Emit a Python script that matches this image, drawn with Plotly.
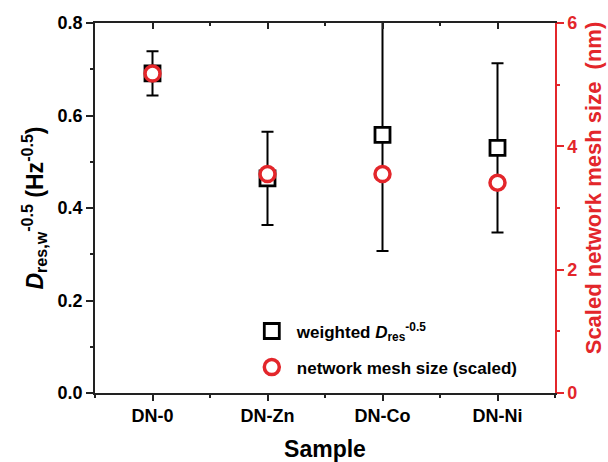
import plotly.graph_objects as go

categories = ["DN-0", "DN-Zn", "DN-Co", "DN-Ni"]
d_res_w = [0.691, 0.464, 0.558, 0.530]
d_res_err = [0.048, 0.101, 0.251, 0.183]
mesh_scaled = [5.18, 3.55, 3.55, 3.41]

RED = "#e3262b"
FONT = "Liberation Sans, Arial, sans-serif"
xpos = list(range(len(categories)))

fig = go.Figure()
fig.add_trace(go.Scatter(
    x=xpos, y=d_res_w, mode="markers",
    name="weighted <i>D</i><sub>res</sub><sup>-0.5</sup>",
    legendgroup="a",
    marker=dict(symbol="square", size=15, color="white", line=dict(color="black", width=2.8)),
    error_y=dict(type="data", array=d_res_err, color="black", thickness=2, width=6),
    cliponaxis=True,
))
fig.add_trace(go.Scatter(
    x=xpos, y=mesh_scaled, mode="markers", yaxis="y2",
    name="network mesh size (scaled)",
    legendgroup="b",
    marker=dict(symbol="circle", size=15, color="white", line=dict(color=RED, width=3.5)),
))
# top frame with inward ticks
fig.add_trace(go.Scatter(x=[None], y=[None], xaxis="x2", showlegend=False, hoverinfo="skip"))

tickfont = dict(family=FONT, size=18, color="black", weight="bold")
fig.update_layout(
    width=608, height=462,
    margin=dict(l=95, r=53, t=23, b=69),
    paper_bgcolor="white", plot_bgcolor="white",
    showlegend=True,
    legend=dict(x=0.33, y=0.215, xanchor="left", yanchor="top",
                font=dict(family=FONT, size=17, color="black", weight="bold"),
                bgcolor="rgba(0,0,0,0)", tracegroupgap=11, itemwidth=40),
    xaxis=dict(
        range=[-0.5, 3.5], tickmode="array", tickvals=xpos, ticktext=categories, automargin=False,
        showline=True, linecolor="#222", linewidth=1.5, mirror=False,
        ticks="outside", ticklen=6, tickwidth=1.5, tickcolor="#222",
        minor=dict(tickmode="array", tickvals=[-0.5, 0.5, 1.5, 2.5, 3.5], ticks="outside", ticklen=3, tickwidth=1.5, tickcolor="#222"),
        showgrid=False, zeroline=False, tickfont=tickfont,
        title=dict(text="Sample", font=dict(family=FONT, size=23, color="black", weight="bold"), standoff=16),
    ),
    xaxis2=dict(
        overlaying="x", side="top", range=[-0.5, 3.5], tickmode="array", tickvals=xpos, automargin=False,
        showticklabels=False, showline=True, linecolor="#222", linewidth=1.5,
        ticks="inside", ticklen=6, tickwidth=1.5, tickcolor="#222",
        minor=dict(tickmode="array", tickvals=[0.5, 1.5, 2.5], ticks="inside", ticklen=3, tickwidth=1.5, tickcolor="#222"),
        showgrid=False, zeroline=False,
    ),
    yaxis=dict(
        range=[0, 0.8], tickmode="array", tickvals=[0, 0.2, 0.4, 0.6, 0.8], automargin=False,
        ticktext=["0.0", "0.2", "0.4", "0.6", "0.8"],
        showline=True, linecolor="#222", linewidth=1.5,
        ticks="outside", ticklen=7, tickwidth=1.5, tickcolor="#222",
        minor=dict(tickmode="array", tickvals=[0.1, 0.3, 0.5, 0.7], ticks="outside", ticklen=3, tickwidth=1.5, tickcolor="#222"),
        showgrid=False, zeroline=False, tickfont=tickfont,
        title=dict(text="<i>D</i><sub>res,w</sub><sup>-0.5</sup> (Hz<sup>-0.5</sup>)",
                   font=dict(family=FONT, size=23, color="black", weight="bold"), standoff=8),
    ),
    yaxis2=dict(
        overlaying="y", side="right", range=[0, 6], tickmode="array", tickvals=[0, 2, 4, 6], automargin=False,
        showline=True, linecolor=RED, linewidth=1.5,
        ticks="outside", ticklen=7, tickwidth=1.5, tickcolor=RED,
        minor=dict(tickmode="array", tickvals=[1, 3, 5], ticks="outside", ticklen=3, tickwidth=1.5, tickcolor=RED),
        showgrid=False, zeroline=False,
        tickfont=dict(family=FONT, size=18, color=RED, weight="bold"),
    ),
    annotations=[dict(
        text="Scaled network mesh size&nbsp; (nm)", textangle=-90,
        xref="paper", yref="paper", x=1.084, y=0.555, xanchor="center", yanchor="middle",
        showarrow=False, font=dict(family=FONT, size=22, color=RED, weight="bold"),
    )],
)

fig.write_html("out.html")
